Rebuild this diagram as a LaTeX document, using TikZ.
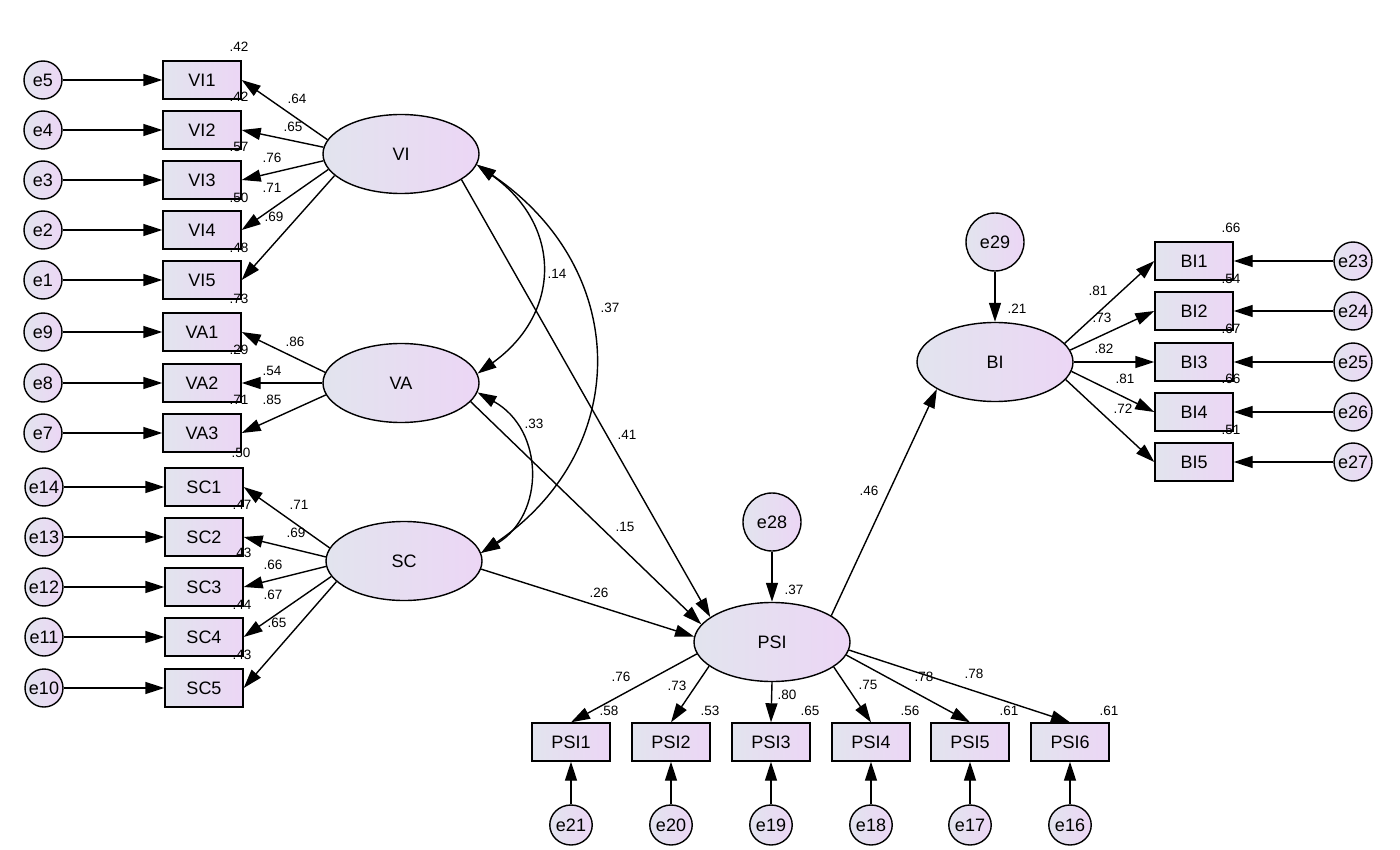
\documentclass[tikz,border=0pt]{standalone}
\usepackage{fontspec}
\setmainfont{Liberation Sans}
\usetikzlibrary{arrows.meta,shapes.geometric}
\definecolor{cl}{RGB}{226,228,238}
\definecolor{cr}{RGB}{236,214,245}
\begin{document}
\begin{tikzpicture}[x=1pt,y=-1pt,
  base/.style={draw, line width=1.4pt, inner sep=0pt, left color=cl, right color=cr, font=\fontsize{18}{20}\selectfont},
  box/.style={base, rectangle, minimum width=78pt, minimum height=38pt},
  lat/.style={base, ellipse, minimum width=156pt, minimum height=79pt},
  err/.style={base, circle, minimum size=38pt},
  perr/.style={base, ellipse, minimum width=37pt, minimum height=40pt},
  bigerr/.style={base, circle, minimum size=58pt},
  arr/.style={line width=1.4pt, -{Triangle[length=19pt,width=12pt]}},
  cov/.style={line width=1.4pt, {Triangle[length=19pt,width=12pt]}-{Triangle[length=19pt,width=12pt]}},
  lbl/.style={font=\fontsize{13.5}{15}\selectfont, inner sep=0pt}]
\useasboundingbox[fill=white] (0,0) rectangle (1400,850);

% latent variables
\node[lat] (VI) at (401,154) {VI};
\node[lat] (VA) at (401,383) {VA};
\node[lat] (SC) at (404,561) {SC};
\node[lat] (PSI) at (772,642) {PSI};
\node[lat] (BI) at (995,362) {BI};

% VI items
\foreach \n/\y/\e in {1/80/5,2/130/4,3/180/3,4/230/2,5/280/1}{
  \node[box] (VI\n) at (202,\y) {VI\n};
  \node[err] (e\e) at (43,\y) {e\e};
  \draw[arr] (e\e.east) -- (VI\n.west);
}
\foreach \n/\y/\e in {1/332/9,2/383/8,3/433/7}{
  \node[box] (VA\n) at (202,\y) {VA\n};
  \node[err] (e\e) at (43,\y) {e\e};
  \draw[arr] (e\e.east) -- (VA\n.west);
}
\foreach \n/\y/\e in {1/487/14,2/537/13,3/587/12,4/637/11,5/688/10}{
  \node[box] (SC\n) at (204,\y) {SC\n};
  \node[err] (e\e) at (44,\y) {e\e};
  \draw[arr] (e\e.east) -- (SC\n.west);
}
\foreach \n/\y/\e in {1/261/23,2/311/24,3/362/25,4/412/26,5/462/27}{
  \node[box] (BI\n) at (1194,\y) {BI\n};
  \node[err] (e\e) at (1353,\y) {e\e};
  \draw[arr] (e\e.west) -- (BI\n.east);
}
\foreach \n/\x/\e in {1/571/21,2/671/20,3/771/19,4/871/18,5/970/17,6/1070/16}{
  \node[box] (PSI\n) at (\x,742) {PSI\n};
  \node[perr] (e\e) at (\x,825) {e\e};
  \draw[arr] (e\e.north) -- (PSI\n.south);
}
\node[bigerr] (e28) at (772,522) {e28};
\node[bigerr] (e29) at (995,242) {e29};
\draw[arr] (e28.south) -- (PSI.north);
\draw[arr] (e29.south) -- (BI.north);

% loadings
\draw[arr] (VI.169) -- (VI1.east);
\draw[arr] (VI.175) -- (VI2.east);
\draw[arr] (VI.185) -- (VI3.east);
\draw[arr] (VI.192) -- (VI4.east);
\draw[arr] (VI.198) -- (VI5.east);
\draw[arr] (VA.172) -- (VA1.east);
\draw[arr] (VA.180) -- (VA2.east);
\draw[arr] (VA.189) -- (VA3.east);
\draw[arr] (SC.170) -- (SC1.east);
\draw[arr] (SC.177) -- (SC2.east);
\draw[arr] (SC.184) -- (SC3.east);
\draw[arr] (SC.192) -- (SC4.east);
\draw[arr] (SC.197) -- (SC5.east);
\draw[arr] (BI.15.5) -- (BI1.west);
\draw[arr] (BI.9) -- (BI2.west);
\draw[arr] (BI.0) -- (BI3.west);
\draw[arr] (BI.-7.6) -- (BI4.west);
\draw[arr] (BI.-14) -- (BI5.west);
\draw[arr] (PSI.189.5) -- (PSI1.north);
\draw[arr] (PSI.201.5) -- (PSI2.north);
\draw[arr] (PSI.270) -- (PSI3.north);
\draw[arr] (PSI.338.7) -- (PSI4.north);
\draw[arr] (PSI.350.4) -- (PSI5.north);
\draw[arr] (PSI.354) -- (PSI6.north);

% structural paths
\draw[arr] (VI.337) -- (PSI.158);
\draw[arr] (VA.-15) -- (PSI.166);
\draw[arr] (SC.-6) -- (PSI.176);
\draw[arr] (PSI.24) -- (BI.205);

% covariances
\draw[cov] (VI.-8) .. controls (562,225) and (562,313) .. (VA.7.5);
\draw[cov] (VI.-8) .. controls (632,270) and (632,450) .. (SC.6.7);
\draw[cov] (VA.-7.5) .. controls (545,430) and (545,515) .. (SC.6.7);

% labels
\foreach \t/\x/\y [count=\i] in {
 .42/239/47,.42/239/97,.57/239/147,.50/239/198,.48/239/248,.73/239/299,
 .29/239/350,.71/239/400,.50/241/453,.47/242/505,.43/242/553,.44/242/605,.43/242/655,
 .64/297/99,.65/293/127,.76/272/158,.71/272/188,.69/274/217,
 .86/295/342,.54/272/371,.85/272/400,
 .71/299/505,.69/296/533,.66/273/565,.67/273/595,.65/277/623,
 .14/557/274,.37/610/308,.33/534/424,
 .41/627/435,.15/625/527,.26/599/593,.46/869/491,.37/794/590,.21/1017/309,
 .76/621/677,.73/677/686,.80/787/695,.75/868/685,.78/924/677,.78/974/674,
 .58/609/711,.53/710/711,.65/810/711,.56/910/711,.61/1009/711,.61/1109/711,
 .81/1098/291,.73/1102/318,.82/1104/349,.81/1125/379,.72/1123/409,
 .66/1231/228,.54/1231/279,.67/1231/329,.66/1231/379,.51/1231/430}{
  \node[lbl] (L\i) at (\x,\y) {\t};
}
\end{tikzpicture}
\end{document}
